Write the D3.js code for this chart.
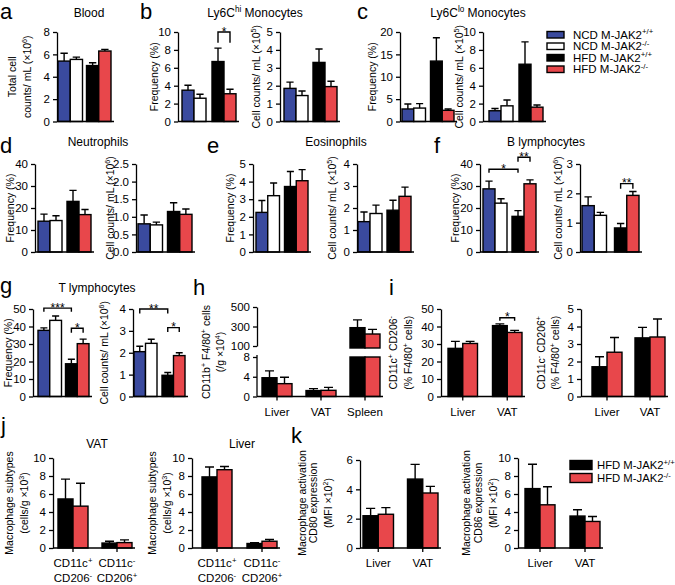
<!DOCTYPE html>
<html><head><meta charset="utf-8">
<script src="https://cdn.jsdelivr.net/npm/d3@7"></script>
<style>body{margin:0;background:#fff} svg text{font-family:"Liberation Sans",Arial,sans-serif;fill:#000}</style>
</head><body><svg id="c" width="675" height="585"></svg>
<script>
// ---------- DATA ----------
const dietGroups = ["NCD", "HFD"];
const genotypes = ["+/+", "-/-"];
const legendFour = ["NCD M-JAK2^{+/+}", "NCD M-JAK2^{-/-}", "HFD M-JAK2^{+/+}", "HFD M-JAK2^{-/-}"];
const colorsFour = ["#3a4a9e", "#ffffff", "#000000", "#e8474b"];
const legendTwo = ["HFD M-JAK2^{+/+}", "HFD M-JAK2^{-/-}"];
const colorsTwo = ["#000000", "#e8474b"];

// four-group panels: order NCD+/+, NCD-/-, HFD+/+, HFD-/-
const bloodMean = [5.4, 5.55, 5.0, 6.3];      const bloodSem = [0.7, 0.2, 0.25, 0.15];
const ly6hiFreq = [3.5, 2.6, 6.7, 3.1];       const ly6hiFreqSem = [0.55, 0.45, 1.5, 0.5];
const ly6hiCount = [1.85, 1.45, 3.3, 1.95];   const ly6hiCountSem = [0.35, 0.25, 0.75, 0.3];
const ly6loFreq = [2.8, 3.0, 13.5, 2.5];      const ly6loFreqSem = [1.1, 1.0, 5.2, 0.3];
const ly6loCount = [1.2, 1.75, 6.4, 1.6];     const ly6loCountSem = [0.25, 0.65, 2.5, 0.25];
const neuFreq = [14, 14.3, 23, 17];           const neuFreqSem = [3.2, 2.2, 5, 2.3];
const neuCount = [0.8, 0.77, 1.15, 1.07];     const neuCountSem = [0.25, 0.08, 0.25, 0.15];
const eosFreq = [2.25, 3.2, 3.72, 4.05];      const eosFreqSem = [0.68, 0.72, 0.85, 0.63];
const eosCount = [1.38, 1.75, 1.9, 2.53];     const eosCountSem = [0.44, 0.38, 0.45, 0.42];
const bFreq = [28.7, 22.2, 16.2, 31];         const bFreqSem = [3.5, 2.0, 2.6, 1.8];
const bCount = [1.58, 1.25, 0.82, 1.93];      const bCountSem = [0.3, 0.1, 0.15, 0.13];
const tFreq = [37.8, 43.5, 18.7, 30.2];       const tFreqSem = [1.4, 2.5, 2.6, 2.6];
const tCount = [2.05, 2.43, 0.97, 1.87];      const tCountSem = [0.25, 0.19, 0.13, 0.13];

// two-genotype HFD panels
const tissuesH = ["Liver", "VAT", "Spleen"];
const hWT = [3.8, 1.2, 288];    const hWTSem = [1.4, 0.4, 80];
const hKO = [2.6, 1.25, 223];   const hKOSem = [1.3, 0.6, 48];
const tissuesLV = ["Liver", "VAT"];
const iPlusWT = [27.5, 40.5];   const iPlusWTSem = [4, 1];
const iPlusKO = [30.3, 36.6];   const iPlusKOSem = [1.2, 1.2];
const iMinusWT = [1.7, 3.35];   const iMinusWTSem = [0.57, 0.6];
const iMinusKO = [2.53, 3.4];   const iMinusKOSem = [0.84, 1.03];
const subtypes = ["CD11c^{+}|CD206^{-}", "CD11c^{-}|CD206^{+}"];
const jVatWT = [5.45, 0.55];    const jVatWTSem = [2.2, 0.2];
const jVatKO = [4.65, 0.6];     const jVatKOSem = [2.55, 0.3];
const jLivWT = [7.9, 0.5];      const jLivWTSem = [1.1, 0.1];
const jLivKO = [8.7, 0.75];     const jLivKOSem = [0.35, 0.2];
const cd80WT = [2.2, 4.7];      const cd80WTSem = [0.5, 1.0];
const cd80KO = [2.3, 3.75];     const cd80KOSem = [0.45, 0.45];
const cd86WT = [6.6, 3.55];     const cd86WTSem = [2.7, 0.7];
const cd86KO = [4.8, 2.95];     const cd86KOSem = [2.0, 0.55];

// ---------- HELPERS ----------
const svg = d3.select("#c");
function rich(sel, str, fs) {
  const parts = str.split(/(\^\{[^}]*\})/).filter(p => p !== "");
  let pend = 0;
  parts.forEach(p => {
    if (p.startsWith("^{")) {
      sel.append("tspan").attr("dy", -fs * 0.38 + pend).attr("font-size", fs * 0.68).text(p.slice(2, -1));
      pend = fs * 0.38;
    } else {
      const t = sel.append("tspan").attr("font-size", fs).text(p);
      if (pend) t.attr("dy", pend);
      pend = 0;
    }
  });
}
function txt(x, y, str, fs, anchor, rot) {
  const t = svg.append("text").attr("text-anchor", anchor || "middle").attr("font-size", fs);
  if (rot) t.attr("transform", `translate(${x},${y}) rotate(-90)`);
  else t.attr("x", x).attr("y", y);
  rich(t, str, fs);
  return t;
}
function fourData(m, s) {
  return m.map((v, i) => ({ group: dietGroups[Math.floor(i / 2)], sub: genotypes[i % 2], mean: v, sem: s[i], color: colorsFour[i] }));
}
function twoData(cats, wt, wts, ko, kos) {
  const out = [];
  cats.forEach((c, i) => {
    out.push({ group: c, sub: genotypes[0], mean: wt[i], sem: wts[i], color: colorsTwo[0] });
    out.push({ group: c, sub: genotypes[1], mean: ko[i], sem: kos[i], color: colorsTwo[1] });
  });
  return out;
}
function outerScale(groups, x0, x1, gap) {
  const n = groups.length, bw = (x1 - x0 - (n - 1) * gap) / n;
  return d3.scaleBand().domain(groups).range([x0, x1]).paddingInner(gap / (bw + gap)).paddingOuter(0);
}
function styleAxis(a) {
  a.selectAll("path,line").attr("stroke", "#000").attr("stroke-width", 1.3);
  a.selectAll("text").attr("font-size", 11.5).attr("font-family", '"Liberation Sans",Arial,sans-serif').attr("fill", "#000");
}
const LW = 1.4;

function panel(cfg) {
  const g = svg.append("g");
  const groups = [...new Set(cfg.data.map(d => d.group))];
  const xo = outerScale(groups, cfg.x0, cfg.x1, cfg.gap);
  const xi = d3.scaleBand().domain(genotypes).range([0, xo.bandwidth()]);
  const bx = d => xo(d.group) + xi(d.sub);
  const bw = xi.bandwidth();
  let yOf, bars = [];
  if (cfg.broken) {
    const yl = d3.scaleLinear().domain(cfg.domain).range([cfg.zero, cfg.lowTop]);
    const yu = d3.scaleLinear().domain(cfg.upDomain).range([cfg.upBottom, cfg.top]);
    yOf = v => v <= cfg.domain[1] ? yl(v) : yu(v);
    cfg.data.forEach(d => {
      if (d.mean <= cfg.domain[1]) bars.push({ d, y0: yl(0), y1: yl(d.mean) });
      else {
        bars.push({ d, y0: yl(0), y1: yl(cfg.domain[1]) });
        bars.push({ d, y0: yu(cfg.upDomain[0]) + 2, y1: yu(d.mean) });
      }
    });
    const al = g.append("g").attr("transform", `translate(${cfg.axisX},0)`)
      .call(d3.axisLeft(yl).tickValues(cfg.ticks).tickSize(4).tickSizeOuter(0));
    styleAxis(al);
    al.select(".domain").attr("d", `M0,${cfg.zero}V${cfg.lowTop - 2}`);
    const au = g.append("g").attr("transform", `translate(${cfg.axisX},0)`)
      .call(d3.axisLeft(yu).tickValues(cfg.upTicks).tickSize(4).tickSizeOuter(0));
    styleAxis(au);
  } else {
    const y = d3.scaleLinear().domain(cfg.domain).range([cfg.zero, cfg.top]);
    yOf = y;
    cfg.data.forEach(d => bars.push({ d, y0: y(0), y1: y(d.mean) }));
    const ay = g.append("g").attr("transform", `translate(${cfg.axisX},0)`)
      .call(d3.axisLeft(y).tickValues(cfg.ticks).tickSize(4).tickSizeOuter(0).tickFormat(cfg.fmt || d3.format("d")));
    styleAxis(ay);
  }
  // error bars
  const cap = bw * 0.3;
  g.selectAll("path.err").data(cfg.data).join("path").attr("class", "err")
    .attr("d", d => {
      const cx = bx(d) + bw / 2, yt = yOf(d.mean + d.sem);
      return `M${cx},${yOf(d.mean)}V${yt}M${cx - cap},${yt}H${cx + cap}`;
    })
    .attr("stroke", "#000").attr("stroke-width", LW).attr("fill", "none");
  // bars
  g.selectAll("rect.bar").data(bars).join("rect").attr("class", "bar")
    .attr("x", b => bx(b.d)).attr("width", bw)
    .attr("y", b => b.y1).attr("height", b => b.y0 - b.y1)
    .attr("fill", b => b.d.color).attr("stroke", "#000").attr("stroke-width", LW);
  // x axis
  g.append("line").attr("x1", cfg.axisX).attr("x2", cfg.x1 + 3).attr("y1", cfg.zero).attr("y2", cfg.zero)
    .attr("stroke", "#000").attr("stroke-width", 1.3);
  if (cfg.catLabels) {
    const ax = g.append("g").attr("transform", `translate(0,${cfg.zero})`)
      .call(d3.axisBottom(xo).tickSize(4).tickSizeOuter(0).tickFormat(""));
    styleAxis(ax);
    ax.select(".domain").remove();
    groups.forEach(c => {
      const lines = c.split("|");
      lines.forEach((ln, k) => txt(xo(c) + xo.bandwidth() / 2, cfg.zero + 19 + k * 15, ln, 11.5));
    });
  }
  // brackets
  (cfg.brackets || []).forEach(br => {
    const a = cfg.data[br.a], b = cfg.data[br.b];
    const xa = bx(a) + bw / 2, xb = bx(b) + bw / 2;
    const yt = yOf(br.top), yd = yOf(br.drop);
    g.append("path").attr("d", `M${xa},${yd}V${yt}H${xb}V${yd}`)
      .attr("stroke", "#000").attr("stroke-width", LW).attr("fill", "none");
    g.append("text").attr("x", (xa + xb) / 2).attr("y", yt + 3.5).attr("text-anchor", "middle")
      .attr("font-size", 12).text(br.label);
  });
  // y labels
  const cy = cfg.labelY !== undefined ? cfg.labelY : (cfg.zero + cfg.top) / 2;
  cfg.ylab.forEach((ln, k) => txt(cfg.labX[k] + 3.5, cy, ln, 10.5, "middle", true));
}

// ---------- PANELS ----------
const r1 = { top: 32, zero: 121.5 }, r2 = { top: 164, zero: 252 }, r3 = { top: 309, zero: 396.5 }, r4 = { top: 458, zero: 548 };
const cnt = e => `Cell counts/ mL (×10^{${e}})`;

panel({ ...r1, data: fourData(bloodMean, bloodSem), axisX: 57, x0: 58, x1: 111, gap: 4, domain: [0, 8], ticks: [0, 2, 4, 6, 8],
  ylab: ["Total cell", "counts/ mL (×10^{6})"], labX: [12.5, 27] });
panel({ ...r1, data: fourData(ly6hiFreq, ly6hiFreqSem), axisX: 178, x0: 182, x1: 236, gap: 6, domain: [0, 10], ticks: [0, 2, 4, 6, 8, 10],
  ylab: ["Frequency (%)"], labX: [154], brackets: [{ a: 2, b: 3, top: 10, drop: 8.8, label: "*" }] });
panel({ ...r1, data: fourData(ly6hiCount, ly6hiCountSem), axisX: 280, x0: 284, x1: 337, gap: 5, domain: [0, 5], ticks: [0, 1, 2, 3, 4, 5],
  ylab: [cnt(5)], labX: [256] });
panel({ ...r1, data: fourData(ly6loFreq, ly6loFreqSem), axisX: 400, x0: 402, x1: 454, gap: 5, domain: [0, 20], ticks: [0, 5, 10, 15, 20],
  ylab: ["Frequency (%)"], labX: [372] });
panel({ ...r1, data: fourData(ly6loCount, ly6loCountSem), axisX: 483, x0: 489, x1: 543, gap: 6, domain: [0, 10], ticks: [0, 2, 4, 6, 8, 10],
  ylab: [cnt(5)], labX: [459] });

panel({ ...r2, data: fourData(neuFreq, neuFreqSem), axisX: 35, x0: 38, x1: 91, gap: 5, domain: [0, 40], ticks: [0, 10, 20, 30, 40],
  ylab: ["Frequency (%)"], labX: [10] });
panel({ ...r2, data: fourData(neuCount, neuCountSem), axisX: 136, x0: 138, x1: 192, gap: 5, domain: [0, 2.5], ticks: [0, 0.5, 1, 1.5, 2, 2.5],
  fmt: d3.format(".1f"), ylab: [cnt(6)], labX: [110] });
panel({ ...r2, data: fourData(eosFreq, eosFreqSem), axisX: 253, x0: 256, x1: 308, gap: 5, domain: [0, 5], ticks: [0, 1, 2, 3, 4, 5],
  ylab: ["Frequency (%)"], labX: [230] });
panel({ ...r2, data: fourData(eosCount, eosCountSem), axisX: 357, x0: 358, x1: 411, gap: 5, domain: [0, 4], ticks: [0, 1, 2, 3, 4],
  ylab: [cnt(5)], labX: [332] });
panel({ ...r2, data: fourData(bFreq, bFreqSem), axisX: 480, x0: 483, x1: 536, gap: 5, domain: [0, 40], ticks: [0, 10, 20, 30, 40],
  ylab: ["Frequency (%)"], labX: [455],
  brackets: [{ a: 0, b: 2, top: 37.6, drop: 36, label: "*" }, { a: 2, b: 3, top: 43.1, drop: 41, label: "**" }] });
panel({ ...r2, data: fourData(bCount, bCountSem), axisX: 580, x0: 582, x1: 639, gap: 8, domain: [0, 3], ticks: [0, 1, 2, 3],
  ylab: [cnt(6)], labX: [558], brackets: [{ a: 2, b: 3, top: 2.33, drop: 2.16, label: "**" }] });

panel({ ...r3, data: fourData(tFreq, tFreqSem), axisX: 33, x0: 38, x1: 89, gap: 4, domain: [0, 50], ticks: [0, 10, 20, 30, 40, 50],
  ylab: ["Frequency (%)"], labX: [8],
  brackets: [{ a: 0, b: 2, top: 50.5, drop: 48.5, label: "***" }, { a: 2, b: 3, top: 39, drop: 36.5, label: "*" }] });
panel({ ...r3, data: fourData(tCount, tCountSem), axisX: 133, x0: 134, x1: 185, gap: 5, domain: [0, 4], ticks: [0, 1, 2, 3, 4],
  ylab: [cnt(6)], labX: [104],
  brackets: [{ a: 0, b: 2, top: 4.0, drop: 3.8, label: "**" }, { a: 2, b: 3, top: 3.15, drop: 2.95, label: "*" }] });
panel({ top: 307, zero: 396.5, lowTop: 357, upBottom: 346, broken: true, domain: [0, 8], ticks: [0, 4, 8], upDomain: [100, 500], upTicks: [100, 300, 500],
  data: twoData(tissuesH, hWT, hWTSem, hKO, hKOSem), axisX: 257, x0: 262, x1: 380, gap: 14, catLabels: true,
  ylab: ["CD11b^{+} F4/80^{+} cells", "(/g ×10^{4})"], labX: [206, 220], labelY: 352 });
panel({ ...r3, data: twoData(tissuesLV, iPlusWT, iPlusWTSem, iPlusKO, iPlusKOSem), axisX: 441, x0: 448, x1: 522, gap: 15, catLabels: true,
  domain: [0, 50], ticks: [0, 10, 20, 30, 40, 50], ylab: ["CD11c^{+} CD206^{-}", "(% F4/80^{+} cells)"], labX: [393, 408],
  brackets: [{ a: 2, b: 3, top: 45, drop: 43.3, label: "*" }] });
panel({ ...r3, data: twoData(tissuesLV, iMinusWT, iMinusWTSem, iMinusKO, iMinusKOSem), axisX: 581, x0: 592, x1: 665, gap: 13, catLabels: true,
  domain: [0, 5], ticks: [0, 1, 2, 3, 4, 5], ylab: ["CD11c^{-} CD206^{+}", "(% F4/80^{+} cells)"], labX: [541, 555] });

panel({ ...r4, data: twoData(subtypes, jVatWT, jVatWTSem, jVatKO, jVatKOSem), axisX: 53, x0: 58, x1: 132, gap: 14, catLabels: true,
  domain: [0, 10], ticks: [0, 2, 4, 6, 8, 10], ylab: ["Macrophage subtypes", "(cells/g ×10^{3})"], labX: [9, 24] });
panel({ ...r4, data: twoData(subtypes, jLivWT, jLivWTSem, jLivKO, jLivKOSem), axisX: 192, x0: 202, x1: 277, gap: 15, catLabels: true,
  domain: [0, 10], ticks: [0, 2, 4, 6, 8, 10], ylab: ["Macrophage subtypes", "(cells/g ×10^{3})"], labX: [152, 167] });
panel({ top: 460, zero: 548, data: twoData(tissuesLV, cd80WT, cd80WTSem, cd80KO, cd80KOSem), axisX: 360, x0: 363, x1: 438, gap: 14, catLabels: true,
  domain: [0, 6], ticks: [0, 2, 4, 6], ylab: ["Macrophage activation", "CD80 expression", "(MFI ×10^{2})"], labX: [302, 313, 328], labelY: 503 });
panel({ ...r4, data: twoData(tissuesLV, cd86WT, cd86WTSem, cd86KO, cd86KOSem), axisX: 518, x0: 525, x1: 600, gap: 15, catLabels: true,
  domain: [0, 10], ticks: [0, 2, 4, 6, 8, 10], ylab: ["Macrophage activation", "CD86 expression", "(MFI ×10^{2})"], labX: [466, 478, 493], labelY: 503 });

// ---------- TITLES ----------
[["Blood", 89, 17], ["Ly6C^{hi} Monocytes", 255, 17], ["Ly6C^{lo} Monocytes", 478, 17],
 ["Neutrophils", 98, 146], ["Eosinophils", 336, 146], ["B lymphocytes", 546, 146],
 ["T lymphocytes", 97, 292], ["VAT", 97, 448], ["Liver", 242, 448]]
  .forEach(([t, x, y]) => txt(x, y, t, 12));

// panel letters
[["a", 0, 19], ["b", 140, 19], ["c", 357, 19], ["d", 0, 153], ["e", 207, 153], ["f", 434, 153],
 ["g", 0, 293], ["h", 193, 295], ["i", 389, 295], ["j", 1, 433], ["k", 291, 443]]
  .forEach(([t, x, y]) => svg.append("text").attr("x", x).attr("y", y).attr("font-size", 22).text(t));

// ---------- LEGENDS ----------
function legend(labels, colors, x, y0, dy, w, h, tx, fs) {
  const yb = d3.scaleBand().domain(labels).range([y0, y0 + dy * labels.length]);
  labels.forEach((l, i) => {
    const cy = yb(l) + dy / 2;
    svg.append("rect").attr("x", x).attr("y", cy - h / 2).attr("width", w).attr("height", h)
      .attr("fill", colors[i]).attr("stroke", "#000").attr("stroke-width", LW);
    txt(tx, cy + 4, l, fs, "start");
  });
}
legend(legendFour, colorsFour, 547, 29, 11.5, 17, 6.5, 573, 11.5);
legend(legendTwo, colorsTwo, 570, 458.5, 13, 22, 9, 597, 11.3);
</script></body></html>
